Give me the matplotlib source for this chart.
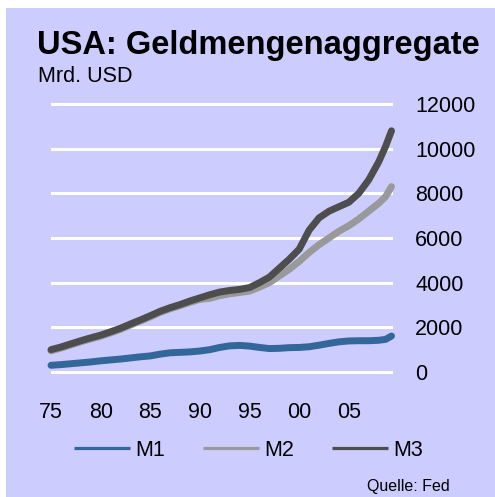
import matplotlib
matplotlib.use('Agg')
import matplotlib.pyplot as plt
from matplotlib.patches import Rectangle

# data (Mrd. USD)
years = [1975, 1976, 1977, 1978, 1979, 1980, 1981, 1982, 1983, 1984,
         1985, 1986, 1987, 1988, 1989, 1990, 1991, 1992, 1993, 1994,
         1995, 1996, 1997, 1998, 1999, 2000, 2001, 2002, 2003, 2004,
         2005, 2006, 2007, 2008, 2008.7, 2009.3]
m1 = [300, 330, 370, 410, 450, 500, 540, 580, 630, 680,
      720, 800, 860, 880, 900, 940, 1000, 1100, 1170, 1190,
      1160, 1100, 1050, 1060, 1090, 1100, 1130, 1200, 1280, 1350,
      1390, 1400, 1400, 1420, 1460, 1610]
m2 = [950, 1070, 1210, 1350, 1480, 1600, 1750, 1910, 2100, 2280,
      2470, 2670, 2830, 2970, 3120, 3250, 3300, 3420, 3500, 3560,
      3620, 3800, 4000, 4300, 4600, 4950, 5350, 5700, 6000, 6300,
      6550, 6850, 7200, 7550, 7850, 8300]
m3 = [1000, 1120, 1260, 1400, 1530, 1650, 1800, 1960, 2150, 2330,
      2520, 2720, 2880, 3020, 3180, 3320, 3460, 3580, 3650, 3700,
      3780, 4000, 4250, 4650, 5050, 5500, 6350, 6900, 7200, 7400,
      7600, 8000, 8600, 9400, 10100, 10800]

series = ['M1', 'M2', 'M3']
colors = ['#336699', '#999999', '#4d4d4d']
xticks = [1975, 1980, 1985, 1990, 1995, 2000, 2005]
xlabels = ['75', '80', '85', '90', '95', '00', '05']
yticks = [0, 2000, 4000, 6000, 8000, 10000, 12000]

bg = '#ccccff'
font = 'Liberation Sans'

fig = plt.figure(figsize=(4.95, 4.97), dpi=100)
fig.patch.set_facecolor('white')
# lavender panel, small white margin on top and left
fig.add_artist(Rectangle((6 / 495, 0), 1, 1 - 8 / 497, transform=fig.transFigure,
                         facecolor=bg, edgecolor='none', zorder=0))

ax = fig.add_axes([51 / 495, 1 - 378.7 / 497, 342 / 495, 281.4 / 497])
ax.set_facecolor('none')

# lines
for vals, name, col in zip([m1, m2, m3], series, colors):
    ax.plot(years, vals, color=col, lw=5, solid_capstyle='round',
            solid_joinstyle='round', clip_on=False, label=name, zorder=3)

ax.set_xlim(1975, 2009.45)
ax.set_ylim(-300, 12300)

# white horizontal grid
ax.set_yticks(yticks)
ax.set_yticklabels([str(v) for v in yticks])
ax.yaxis.grid(True, color='white', lw=2.2)
ax.set_axisbelow(True)
ax.yaxis.tick_right()
ax.tick_params(axis='y', length=0, pad=16, labelsize=15.5)
for t in ax.get_yticklabels():
    t.set_fontfamily(font)
    t.set_horizontalalignment('left')

ax.set_xticks(xticks)
ax.set_xticklabels(xlabels)
ax.tick_params(axis='x', length=0, pad=17, labelsize=15.5)
for t in ax.get_xticklabels():
    t.set_fontfamily(font)

for s in ax.spines.values():
    s.set_visible(False)

# title and unit
fig.text(37 / 495, 1 - 46 / 497, 'USA: Geldmengenaggregate', fontsize=23.5,
         fontweight='bold', family=font, va='center', ha='left')
fig.text(38 / 495, 1 - 76 / 497, 'Mrd. USD', fontsize=15.5, family=font,
         va='center', ha='left')

# legend
leg = ax.legend(loc='center left', bbox_to_anchor=(55 / 495, 1 - 450 / 497),
                bbox_transform=fig.transFigure, ncol=3, frameon=False,
                handlelength=2.6, handletextpad=0.25, columnspacing=1.75,
                prop={'family': font, 'size': 15.5})
for h in leg.get_lines():
    h.set_linewidth(2.3)
    h.set_solid_capstyle('butt')

# source
fig.text(450 / 495, 1 - 486 / 497, 'Quelle: Fed', fontsize=11.5, family=font,
         va='center', ha='right')

plt.savefig('out.png', dpi=100, facecolor=fig.get_facecolor())
